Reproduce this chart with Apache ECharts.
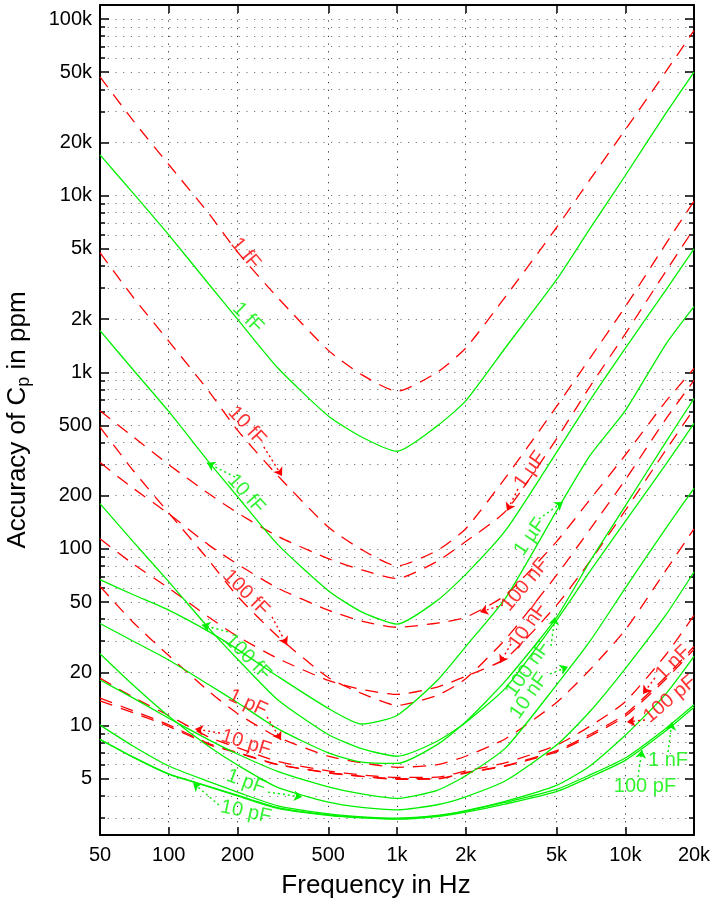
<!DOCTYPE html>
<html><head><meta charset="utf-8">
<script src="https://cdn.jsdelivr.net/npm/echarts@6/dist/echarts.min.js"></script>
<style>html,body{margin:0;padding:0;background:#fff}#c{width:714px;height:905px}</style>
</head><body><div id="c"></div>
<script>
// ---------- data (frequency in Hz, accuracy in ppm) ----------
const freqs = [50,70,100,150,200,300,500,700,1000,1500,2000,3000,5000,7000,10000,15000,20000];

// green (solid) curves
const green_1fF   = [17000,10300,6000,3150,2000,1060,566,430,357,497,688,1390,3340,6500,13000,29000,50000];
const green_10fF  = [1720,1030,600,310,198,106,58,44,37.5,51,71.7,128,352,694,1365,2900,5000];
const green_100fF = [180.3,109.6,65.3,35.5,23.8,14,8.9,7.4,6.7,8.15,10.4,16.4,39.4,74.5,143,299,513];
const green_1pF   = [25.5,16.9,11.3,7.6,5.98,4.46,3.68,3.44,3.33,3.56,3.95,4.88,7.75,12,21,42,74];
const green_10pF  = [10.05,7.63,5.9,4.81,4.2,3.51,3.16,3.04,2.99,3.1,3.3,3.73,4.58,5.9,8.8,15,24.6];
const green_100pF = [8.33,6.6,5.3,4.5,4.0,3.4,3.1,3.0,2.95,3.05,3.23,3.6,4.23,5.1,6.35,9.3,12.7];
const green_1nF   = [8.35,6.62,5.32,4.52,4.03,3.43,3.12,3.02,2.97,3.08,3.28,3.68,4.35,5.25,6.55,9.6,13.1];
const green_10nF  = [18.1,14.3,11,8.3,6.9,5.5,4.5,4.1,3.87,4.3,5.2,7.5,17,30,60,130,220];
const green_100nF = [37.8,30,23.5,17,13.5,9.6,7,6.2,6.1,7.8,10.5,18,41,85,175,400,710];
const green_1uF   = [67,55,45,34,27,19,12.5,10.2,11.4,18,28,53,164,337,606,1430,2350];

// red (dashed) curves
const red_1fF   = [47000,26500,15000,7900,4800,2650,1330,970,780,1000,1370,2700,6600,12300,23600,50000,86000];
const red_10fF  = [4750,2650,1500,780,470,260,133,99,80,98,130,255,640,1200,2350,5300,9300];
const red_100fF = [489,277,160,86,54,32,18.7,15.2,13,14.8,18.4,31,71,129,246,540,900];
const red_1pF   = [61.3,38.3,24.9,15.6,11.7,8.6,6.7,6.15,5.8,6.0,6.7,8.45,13.5,20.7,34.8,75,130];
const red_10pF  = [18.55,14.45,11.4,8.6,7.5,6.26,5.53,5.25,5.08,5.1,5.53,6.16,7.74,9.9,13.65,25,42];
const red_100pF = [14.3,12.1,10.1,7.9,7.05,6.03,5.41,5.16,5.0,5.0,5.38,5.9,7.1,8.7,11.3,18.2,27];
const red_1nF   = [13.8,11.8,9.9,7.8,7.0,6.0,5.4,5.15,4.96,4.98,5.42,5.95,7.2,8.9,11.6,18.8,28];
const red_10nF  = [114,82,60,41,32,24,18,16,15,16.5,19,24,48,85,165,360,620];
const red_100nF = [308,220,158,105,82,60,45,39,36,38,41,55,110,190,340,680,1050];
const red_1uF   = [606,430,300,205,160,118,88,76,68,85,110,164,420,830,1650,3700,6500];

// axis ticks
const xTickValues = [50,100,200,500,1000,2000,5000,10000,20000];
const xTickLabels = ['50','100','200','500','1k','2k','5k','10k','20k'];
const yTickValues = [5,10,20,50,100,200,500,1000,2000,5000,10000,20000,50000,100000];
const yTickLabels = ['5','10','20','50','100','200','500','1k','2k','5k','10k','20k','50k','100k'];
const yMinorMantissas = [1,2,3,4,5,6,7,8,9];
const yDecades = [1,10,100,1000,10000,100000];
const xRange = [50,20000];
const yRange = [2.4,120000];

// curve labels: text, frequency, value, rotation, colour
const labelTexts = ['1 fF','10 fF','100 fF','1 pF','10 pF','1 \u00b5F','100 nF','10 nF','1 nF','100 pF',
                    '1 fF','10 fF','100 fF','1 pF','10 pF','1 \u00b5F','100 nF','10 nF','1 nF','100 pF'];
const labelFreqs = [217,220,218,222,218,3823,3636,3747,16180,15700,
                    222,218,222,218,218,3823,3747,3785,15380,12200];
const labelVals  = [4700,497,56.3,13.4,7.96,280,62.5,36.6,22.6,14.1,
                    2032,204.7,24.4,4.79,3.24,116.8,20.9,14.7,6.3,4.49];
const labelRots  = [-50,-47,-45,-25,-17,55,50,55,45,40,
                    -45,-48,-45,-20,-12,55,55,55,0,0];
const labelIsRed = [1,1,1,1,1,1,1,1,1,1, 0,0,0,0,0,0,0,0,0,0];

// dotted arrows: from [f,v] to [f,v], curveness
const redArrowFrom = [[261,378],[283.5,41.2],[269.5,11.18],[167.7,9.07],[3388,218.5],[2912,48.2],[3157,28.96],[13490,18.6],[12200,10.75]];
const redArrowTo   = [[313.5,258.8],[329.7,28.6],[310.3,8.28],[130.4,9.56],[3032,164],[2310,43.9],[2826,22.6],[11950,15.1],[10170,10.47]];
const redArrowCurv = [0.6,0.6,0.6,-0.6,-0.5,0.5,-0.5,-0.5,0.5];
const greenArrowFrom = [[195.1,255.5],[181.8,33.9],[272.2,4.2],[166,3.55],[4187,147.8],[4726,28.2],[4678,19.6],[15380,7.08],[11370,5.11]];
const greenArrowTo   = [[147.2,306.7],[139.9,37.1],[383.6,3.94],[127.8,4.73],[5334,184.4],[4920,41.2],[5610,21.5],[16010,10.47],[11830,7.27]];
const greenArrowCurv = [-0.6,-0.6,-0.4,0.5,0.5,-0.5,0.3,0.1,0.1];

// ---------- build ----------
const L = Math.log10;
const RED = '#ff0000', GREEN = '#00f000';
const FONT = '"Liberation Sans", Arial, Helvetica, sans-serif';

function pts(vals){ return freqs.map((f,i)=>[L(f), L(vals[i])]); }
function findLabel(vals, labels, v){
  for (let i=0;i<vals.length;i++) if (Math.abs(L(vals[i])-v)<1e-6) return labels[i];
  return '';
}
const yMinor = [];
yDecades.forEach(d=>yMinorMantissas.forEach(m=>{const v=m*d; if(v>=yRange[0]&&v<=yRange[1]) yMinor.push(L(v));}));
const xInner = xTickValues.slice(1,-1).map(L);

const greenSets = [green_1fF,green_10fF,green_100fF,green_1pF,green_10pF,green_100pF,green_1nF,green_10nF,green_100nF,green_1uF];
const redSets = [red_1fF,red_10fF,red_100fF,red_1pF,red_10pF,red_100pF,red_1nF,red_10nF,red_100nF,red_1uF];

const series = [];
redSets.forEach(s=>series.push({type:'line', data:pts(s), showSymbol:false, symbol:'none', smooth:0.2,
  lineStyle:{color:RED, width:1.3, type:[13,9]}, z:3}));
greenSets.forEach(s=>series.push({type:'line', data:pts(s), showSymbol:false, symbol:'none', smooth:0.2,
  lineStyle:{color:GREEN, width:1.3}, z:4}));

function arrowData(from,to,curv,color){
  return from.map((a,i)=>[
    {coord:[L(a[0]),L(a[1])], lineStyle:{curveness:curv[i], color:color}},
    {coord:[L(to[i][0]),L(to[i][1])]}]);
}
series.push({type:'line', data:[], silent:true,
  markLine:{silent:true, symbol:['none','arrow'], symbolSize:8, label:{show:false},
    lineStyle:{type:[2,3], width:1.4, color:RED}, data:arrowData(redArrowFrom,redArrowTo,redArrowCurv,RED)}});
series.push({type:'line', data:[], silent:true,
  markLine:{silent:true, symbol:['none','arrow'], symbolSize:8, label:{show:false},
    lineStyle:{type:[2,3], width:1.4, color:GREEN}, data:arrowData(greenArrowFrom,greenArrowTo,greenArrowCurv,GREEN)}});

series.push({type:'scatter', symbolSize:0, silent:true, z:6,
  data: labelTexts.map((t,i)=>({value:[L(labelFreqs[i]),L(labelVals[i])], name:t,
    label:{rotate:labelRots[i], color: labelIsRed[i]?RED:GREEN}})),
  label:{show:true, position:'inside', formatter:p=>p.name, fontSize:20, fontFamily:FONT, align:'center', verticalAlign:'middle'}});

const axisLineStyle = {color:'#000', width:2};
const common = {type:'value', min:L(xRange[0]), max:L(xRange[1])};
const commonY = {type:'value', min:L(yRange[0]), max:L(yRange[1])};

const option = {
  animation:false,
  backgroundColor:'#fff',
  grid:{left:100, right:20, top:5, bottom:70, containLabel:false, outerBoundsMode:'none'},
  xAxis:[
    Object.assign({}, common, {position:'bottom',
      axisLine:{show:true, lineStyle:axisLineStyle},
      axisTick:{show:true, inside:true, length:8, lineStyle:{color:'#000',width:1.5}, customValues:xInner},
      axisLabel:{show:true, customValues:xTickValues.map(L), margin:10, color:'#000', fontSize:20, fontFamily:FONT,
        formatter:v=>findLabel(xTickValues,xTickLabels,v)},
      splitLine:{show:true, lineStyle:{color:'#333', type:[1.2,6.5], width:1}},
      name:'Frequency in Hz', nameLocation:'middle', nameGap:38,
      nameTextStyle:{fontSize:26, color:'#000', fontFamily:FONT, padding:[0,42,0,0]}}),
    Object.assign({}, common, {position:'top',
      axisLine:{show:true, lineStyle:axisLineStyle},
      axisTick:{show:true, inside:true, length:8, lineStyle:{color:'#000',width:1.5}, customValues:xInner},
      axisLabel:{show:false}, splitLine:{show:false}})
  ],
  yAxis:[
    Object.assign({}, commonY, {position:'left',
      axisLine:{show:true, lineStyle:axisLineStyle},
      axisTick:{show:true, inside:true, length:9, lineStyle:{color:'#000',width:1.5}, customValues:yTickValues.map(L)},
      axisLabel:{show:true, customValues:yTickValues.map(L), margin:8, color:'#000', fontSize:20, fontFamily:FONT,
        formatter:v=>findLabel(yTickValues,yTickLabels,v)},
      splitLine:{show:false},
      name:'Accuracy of C{sub|p} in ppm', nameLocation:'middle', nameGap:67, nameRotate:90,
      nameTextStyle:{fontSize:26, color:'#000', fontFamily:FONT,
        rich:{sub:{fontSize:18, color:'#000', fontFamily:FONT, padding:[13,0,0,0]}}}}),
    Object.assign({}, commonY, {position:'left',
      axisLine:{show:false},
      axisTick:{show:true, inside:true, length:5, lineStyle:{color:'#000',width:1.5}, customValues:yMinor},
      axisLabel:{show:false},
      splitLine:{show:true, lineStyle:{color:'#777', type:[1.2,6.5], width:1}}}),
    Object.assign({}, commonY, {position:'right',
      axisLine:{show:true, lineStyle:axisLineStyle},
      axisTick:{show:true, inside:true, length:9, lineStyle:{color:'#000',width:1.5}, customValues:yTickValues.map(L)},
      axisLabel:{show:false}, splitLine:{show:false}}),
    Object.assign({}, commonY, {position:'right',
      axisLine:{show:false},
      axisTick:{show:true, inside:true, length:5, lineStyle:{color:'#000',width:1.5}, customValues:yMinor},
      axisLabel:{show:false}, splitLine:{show:false}})
  ],
  series: series
};
const chart = echarts.init(document.getElementById('c'), null, {renderer:'canvas'});
chart.setOption(option);
</script></body></html>
